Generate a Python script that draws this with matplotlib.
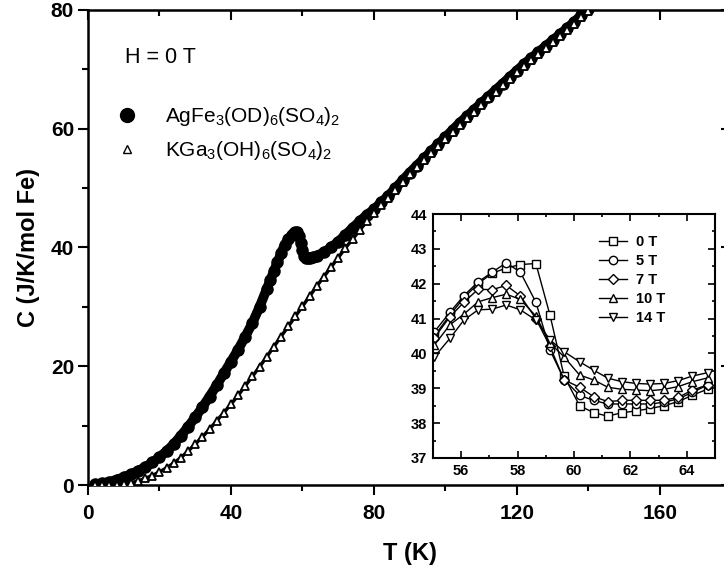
import matplotlib
matplotlib.use('Agg')
import matplotlib.pyplot as plt
from matplotlib.lines import Line2D
from matplotlib.ticker import MultipleLocator

plt.rcParams['font.family'] = ['Liberation Sans', 'DejaVu Sans']
plt.rcParams['mathtext.fontset'] = 'custom'
plt.rcParams['mathtext.rm'] = 'Liberation Sans'
plt.rcParams['mathtext.it'] = 'Liberation Sans:italic'
plt.rcParams['mathtext.bf'] = 'Liberation Sans:bold'

# main panel: AgFe3(OD)6(SO4)2, C vs T
ag_T = [2, 4, 6, 8, 10, 12, 14, 16, 18, 20, 22, 24, 26, 28, 30, 32, 34, 36, 38, 40,
        42, 44, 46, 48, 50, 51, 52, 53, 54, 55, 56, 57, 57.5, 58, 58.5, 59, 59.5, 60,
        60.5, 61, 61.5, 62, 63, 64, 66, 68, 70, 72, 74, 76, 78, 80, 82, 84, 86, 88,
        90, 92, 94, 96, 98, 100, 102, 104, 106, 108, 110, 112, 114, 116, 118, 120,
        122, 124, 126, 128, 130, 132, 134, 136, 138, 140]
ag_C = [0.1, 0.3, 0.5, 0.9, 1.3, 1.8, 2.4, 3.0, 3.8, 4.7, 5.7, 6.9, 8.3, 9.8, 11.4,
        13.1, 14.9, 16.8, 18.8, 20.8, 22.8, 25.0, 27.3, 30.0, 33.0, 34.5, 36.0, 37.5,
        39.0, 40.4, 41.4, 42.1, 42.4, 42.55, 42.6, 42.0, 40.8, 39.5, 38.6, 38.3, 38.2,
        38.3, 38.4, 38.6, 39.2, 40.0, 41.0, 42.1, 43.3, 44.4, 45.5, 46.4, 47.6, 48.7,
        50.0, 51.3, 52.6, 53.8, 55.0, 56.2, 57.4, 58.6, 59.8, 61.0, 62.1, 63.2, 64.3,
        65.4, 66.5, 67.6, 68.7, 69.8, 70.9, 71.9, 72.9, 73.9, 74.9, 75.9, 76.9, 78.0,
        79.1, 80.2]

# main panel: KGa3(OH)6(SO4)2
kga_T = [2, 4, 6, 8, 10, 12, 14, 16, 18, 20, 22, 24, 26, 28, 30, 32, 34, 36, 38, 40,
         42, 44, 46, 48, 50, 52, 54, 56, 58, 60, 62, 64, 66, 68, 70, 72, 74, 76, 78,
         80, 82, 84, 86, 88, 90, 92, 94, 96, 98, 100, 102, 104, 106, 108, 110, 112,
         114, 116, 118, 120, 122, 124, 126, 128, 130, 132, 134, 136, 138, 140, 142]
kga_C = [0.0, 0.0, 0.0, 0.05, 0.15, 0.35, 0.7, 1.1, 1.6, 2.2, 2.9, 3.7, 4.6, 5.7, 6.9,
         8.1, 9.4, 10.8, 12.2, 13.6, 15.1, 16.7, 18.3, 19.9, 21.6, 23.3, 25.0, 26.7,
         28.4, 30.1, 31.8, 33.5, 35.1, 36.7, 38.3, 39.9, 41.4, 42.9, 44.4, 45.8, 47.1,
         48.4, 49.7, 51.0, 52.3, 53.5, 54.7, 55.9, 57.1, 58.3, 59.5, 60.7, 61.8, 62.9,
         64.0, 65.1, 66.2, 67.3, 68.4, 69.5, 70.6, 71.6, 72.6, 73.6, 74.6, 75.6, 76.6,
         77.7, 78.8, 79.9, 81.0]

# inset: fields
inset_T = [55.05, 55.6, 56.1, 56.6, 57.1, 57.6, 58.1, 58.65, 59.15, 59.65, 60.2, 60.7,
           61.2, 61.7, 62.2, 62.7, 63.2, 63.7, 64.2, 64.75]
C_0T = [40.5, 41.1, 41.6, 42.0, 42.3, 42.45, 42.55, 42.58, 41.1, 39.35, 38.5, 38.3,
        38.2, 38.3, 38.35, 38.42, 38.5, 38.62, 38.8, 38.98]
C_5T = [40.62, 41.18, 41.66, 42.05, 42.33, 42.6, 42.33, 41.47, 40.1, 39.25, 38.8, 38.65,
        38.55, 38.55, 38.55, 38.55, 38.6, 38.7, 38.88, 39.1]
C_7T = [40.45, 41.05, 41.47, 41.84, 41.83, 41.95, 41.65, 41.0, 40.2, 39.24, 39.03, 38.76,
        38.62, 38.65, 38.66, 38.65, 38.66, 38.74, 38.95, 39.1]
C_10T = [40.24, 40.82, 41.13, 41.48, 41.6, 41.7, 41.55, 41.07, 40.3, 39.9, 39.38, 39.24,
         39.03, 38.97, 38.95, 38.93, 38.97, 39.05, 39.19, 39.3]
C_14T = [39.9, 40.43, 40.96, 41.25, 41.27, 41.39, 41.25, 40.96, 40.39, 40.05, 39.76,
         39.52, 39.29, 39.19, 39.14, 39.12, 39.14, 39.22, 39.35, 39.45]
field_labels = ['0 T', '5 T', '7 T', '10 T', '14 T']
field_markers = ['s', 'o', 'D', '^', 'v']

fig = plt.figure(figsize=(7.24, 5.71), dpi=100)
ax = fig.add_axes([0.1215, 0.1506, 0.8888, 0.8319])

ax.plot(ag_T, ag_C, '-', color='black', lw=7, solid_capstyle='round', zorder=2)
ax.plot(ag_T, ag_C, 'o', color='black', ms=8, zorder=2)
ax.plot(kga_T, kga_C, '-', color='black', lw=2.5, zorder=3)
ax.plot(kga_T, kga_C, '^', mfc='white', mec='black', mew=1.3, ms=5.5, zorder=3)

ax.set_xlim(0, 180)
ax.set_ylim(0, 80)
ax.xaxis.set_major_locator(MultipleLocator(40))
ax.xaxis.set_minor_locator(MultipleLocator(20))
ax.yaxis.set_major_locator(MultipleLocator(20))
ax.yaxis.set_minor_locator(MultipleLocator(10))
ax.tick_params(which='both', direction='out', width=1.5, top=False, right=False)
ax.tick_params(which='major', length=7, labelsize=15)
ax.tick_params(axis='x', which='major', pad=7)
ax.tick_params(axis='y', which='major', pad=3)
ax.tick_params(which='minor', length=4)
for lab in ax.get_xticklabels() + ax.get_yticklabels():
    lab.set_fontweight('bold')
for sp in ax.spines.values():
    sp.set_linewidth(1.8)

# mirrored ticks pointing inwards on top / right
top = ax.secondary_xaxis('top')
top.xaxis.set_major_locator(MultipleLocator(40))
top.xaxis.set_minor_locator(MultipleLocator(20))
top.tick_params(which='both', direction='in', width=1.5, labeltop=False)
top.tick_params(which='major', length=7)
top.tick_params(which='minor', length=4)
right = ax.secondary_yaxis('right')
right.yaxis.set_major_locator(MultipleLocator(20))
right.yaxis.set_minor_locator(MultipleLocator(10))
right.tick_params(which='both', direction='in', width=1.5, labelright=False)
right.tick_params(which='major', length=7)
right.tick_params(which='minor', length=4)

ax.set_xlabel('T (K)', fontsize=17, fontweight='bold', labelpad=13)
ax.set_ylabel('C (J/K/mol Fe)', fontsize=17, fontweight='bold', labelpad=8)

ax.text(0.0575, 0.901, 'H = 0 T', transform=ax.transAxes, fontsize=15.5, va='center')

handles = [Line2D([], [], ls='none', marker='o', color='black', ms=10),
           Line2D([], [], ls='none', marker='^', mfc='white', mec='black', mew=1.0, ms=6)]
leg = ax.legend(handles, [r'AgFe$_3$(OD)$_6$(SO$_4$)$_2$', r'KGa$_3$(OH)$_6$(SO$_4$)$_2$'],
                loc='upper left', bbox_to_anchor=(0.045, 0.80), frameon=False,
                fontsize=15, handlelength=1.0, handletextpad=1.3, labelspacing=0.55,
                borderpad=0, borderaxespad=0)

# inset
ins = fig.add_axes([0.598, 0.1979, 0.3895, 0.4273])
ins.set_facecolor('white')
for C, lab, mk in zip([C_0T, C_5T, C_7T, C_10T, C_14T], field_labels, field_markers):
    ms = 5 if mk == 'D' else 6
    ins.plot(inset_T, C, '-', marker=mk, color='black', lw=1.0, mfc='white', mec='black',
             mew=1.0, ms=ms, label=lab, clip_on=True)
ins.set_xlim(55, 65)
ins.set_ylim(37, 44)
ins.xaxis.set_major_locator(MultipleLocator(2))
ins.xaxis.set_minor_locator(MultipleLocator(1))
ins.yaxis.set_major_locator(MultipleLocator(1))
ins.yaxis.set_minor_locator(MultipleLocator(0.5))
ins.tick_params(which='both', direction='in', top=True, right=True, width=1.2)
ins.tick_params(which='major', length=5, labelsize=10.5, pad=4)
ins.tick_params(which='minor', length=2.5)
for lab in ins.get_xticklabels() + ins.get_yticklabels():
    lab.set_fontweight('bold')
for sp in ins.spines.values():
    sp.set_linewidth(1.5)
ins.legend(loc='upper left', bbox_to_anchor=(0.59, 0.915), frameon=False,
           prop={'size': 10.5, 'weight': 'bold'}, handlelength=1.9, handletextpad=0.6,
           labelspacing=0.35, borderpad=0, borderaxespad=0)

fig.savefig('out.png', dpi=100)
